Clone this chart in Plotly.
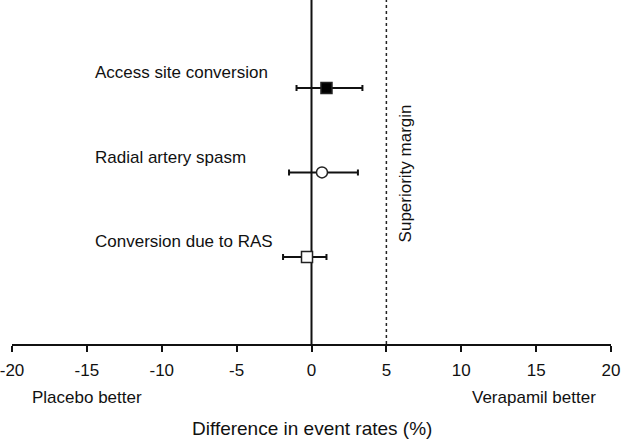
import plotly.graph_objects as go

outcomes = ["Access site conversion", "Radial artery spasm", "Conversion due to RAS"]
diff = [1.0, 0.7, -0.3]
ci_low = [-1.0, -1.5, -1.9]
ci_high = [3.4, 3.1, 1.0]
ypos = [3, 2, 1]
symbols = ["square", "circle-open", "square-open"]
tick_vals = [-20, -15, -10, -5, 0, 5, 10, 15, 20]
tick_text = ["-20", "-15", "-10", "-5", "0", "5", "10", "15", "20"]
margin_x = 5

FONT = "Liberation Sans, Arial, sans-serif"
TXT = "#111"

fig = go.Figure()
for i in range(len(outcomes)):
    sym = symbols[i]
    fill = "black" if sym == "square" else "white"
    fig.add_trace(go.Scatter(
        x=[diff[i]], y=[ypos[i]], mode="markers",
        marker=dict(symbol=sym.replace("-open", ""), size=11,
                    color=fill, line=dict(color="#222", width=1.5)),
        error_x=dict(type="data", symmetric=False,
                     array=[ci_high[i] - diff[i]], arrayminus=[diff[i] - ci_low[i]],
                     color="#111", thickness=2, width=3),
        showlegend=False, hoverinfo="skip"))
    fig.add_annotation(x=-14.62, y=ypos[i], xref="x", yref="y", text=outcomes[i],
                       showarrow=False, xanchor="left", yanchor="middle", yshift=15,
                       font=dict(size=17, color=TXT, family=FONT))

fig.add_shape(type="line", x0=0, x1=0, y0=0, y1=1, xref="x", yref="paper",
              line=dict(color="#111", width=2), layer="below")
fig.add_shape(type="line", x0=margin_x, x1=margin_x, y0=0, y1=1, xref="x", yref="paper",
              line=dict(color="#222", width=1.5, dash="dot"), layer="below")
fig.add_annotation(x=margin_x, y=0.497, xref="x", yref="paper", text="Superiority margin",
                   textangle=-90, showarrow=False, xshift=19,
                   xanchor="center", yanchor="middle",
                   font=dict(size=17, color=TXT, family=FONT))
fig.add_annotation(x=-20, y=0, xref="x", yref="paper", text="Placebo better",
                   showarrow=False, xanchor="left", yanchor="middle", xshift=18, yshift=-53,
                   font=dict(size=17, color=TXT, family=FONT))
fig.add_annotation(x=20, y=0, xref="x", yref="paper", text="Verapamil better",
                   showarrow=False, xanchor="right", yanchor="middle", xshift=-13, yshift=-53,
                   font=dict(size=17, color=TXT, family=FONT))
fig.add_annotation(x=0.5, y=0, xref="paper", yref="paper", text="Difference in event rates (%)",
                   showarrow=False, xanchor="center", yanchor="middle", yshift=-84,
                   font=dict(size=19, color=TXT, family=FONT))

fig.update_layout(
    width=622, height=439,
    margin=dict(l=12, r=11, t=0, b=95, autoexpand=False),
    plot_bgcolor="white", paper_bgcolor="white",
    font=dict(family=FONT, size=17, color=TXT),
    xaxis=dict(range=[-20, 20], tickvals=tick_vals, ticktext=tick_text,
               showgrid=False, zeroline=False, showline=True, linecolor="#111", linewidth=2,
               ticks="outside", ticklen=6, tickwidth=2, tickcolor="#111",
               automargin=False, ticklabeloverflow="allow", ticklabelstandoff=4,
               tickfont=dict(size=17, color=TXT)),
    yaxis=dict(range=[-0.03, 4.04], visible=False, showgrid=False, zeroline=False),
)

fig.write_html("out.html", config={"displayModeBar": False},
               post_script="document.body.style.margin='0px';document.body.style.overflow='hidden';")
